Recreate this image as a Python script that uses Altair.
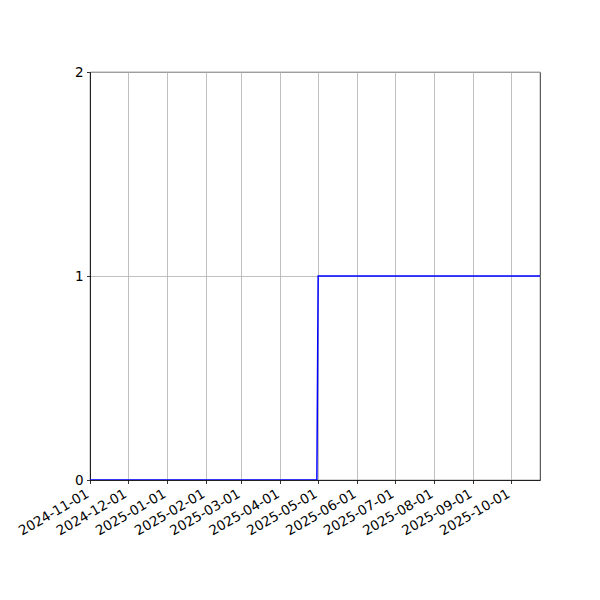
import altair as alt
import pandas as pd

dates = ["2024-11-01", "2025-04-30", "2025-05-01", "2025-10-24"]
values = [0, 0, 1, 1]
tick_months = [(2024, 11), (2024, 12), (2025, 1), (2025, 2), (2025, 3), (2025, 4),
               (2025, 5), (2025, 6), (2025, 7), (2025, 8), (2025, 9), (2025, 10)]
y_ticks = [0, 1, 2]

df = pd.DataFrame({"date": dates, "value": values})

tick_vals = [alt.DateTime(year=y, month=m, date=1, utc=True) for y, m in tick_months]

common = dict(grid=True, gridColor="#b0b0b0", gridWidth=0.8,
              domainColor="black", domainWidth=0.8,
              tickColor="black", tickSize=3.5, tickWidth=0.8,
              labelColor="black", labelFont="DejaVu Sans", labelFontSize=13.5,
              labelOverlap=False, labelFlush=False, labelBound=False, title=None)

chart = alt.Chart(df).mark_line(color="#0000ff", strokeWidth=1.5, clip=True).encode(
    x=alt.X("date:T",
            scale=alt.Scale(type="utc",
                            domain=[alt.DateTime(year=2024, month=11, date=1, utc=True),
                                    alt.DateTime(year=2025, month=10, date=24, utc=True)]),
            axis=alt.Axis(values=tick_vals,
                          labelExpr="utcFormat(datum.value, '%Y-%m-%d')",
                          labelAngle=330, labelAlign="right", labelBaseline="top",
                          labelPadding=3, labelOffset=-6, **common)),
    y=alt.Y("value:Q", scale=alt.Scale(domain=[0, 2], nice=False, zero=True),
            axis=alt.Axis(values=y_ticks, labelExpr="format(datum.value, 'd')",
                          labelPadding=3.5, **common)),
).properties(
    width=450, height=408,
    autosize=alt.AutoSizeParams(type="none"),
    padding={"left": 82, "top": 64, "right": 52, "bottom": 112},
).configure_view(
    stroke="black", strokeWidth=0.8
)

chart.save("out.html", embed_options={"renderer": "svg", "actions": False})
